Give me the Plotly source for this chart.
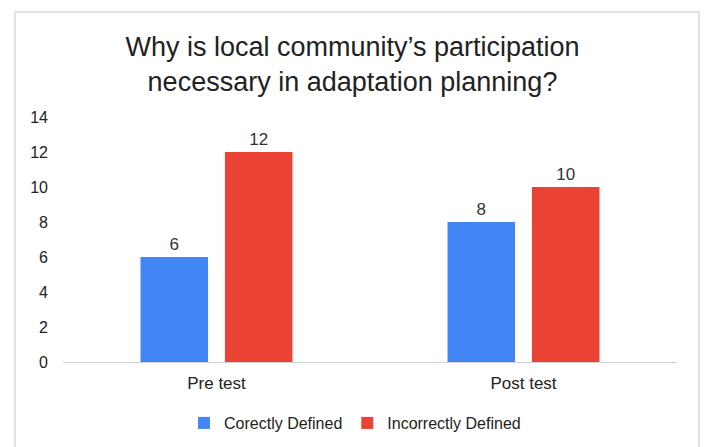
import plotly.graph_objects as go

categories = ["Pre test", "Post test"]
correct_vals = [6, 8]
incorrect_vals = [12, 10]
series_names = ["Corectly Defined", "Incorrectly Defined"]
series_colors = ["#4285F4", "#EA4335"]
title_text = "Why is local community’s participation<br>necessary in adaptation planning?"

W, H = 705, 447
m_l, m_r, m_t, m_b = 63, 28, 117, 85

fig = go.Figure()
for name, vals, color in zip(series_names, [correct_vals, incorrect_vals], series_colors):
    fig.add_trace(go.Bar(
        x=categories, y=vals, name=name,
        marker=dict(color=color, line=dict(width=0)),
        text=[str(v) for v in vals], textposition="outside",
        textfont=dict(size=17, color="#333333"),
        cliponaxis=False,
    ))

pw = W - m_l - m_r
ph = H - m_t - m_b
# light gray outer frame around the chart
fig.add_shape(type="rect", xref="paper", yref="paper",
              x0=(15 - m_l) / pw, x1=(699 - m_l) / pw,
              y0=(H - m_b - 470) / ph, y1=(H - m_b - 12) / ph,
              line=dict(color="#D9D9D9", width=1.5), fillcolor="rgba(0,0,0,0)",
              layer="below")

fig.update_layout(
    width=W, height=H,
    margin=dict(l=m_l, r=m_r, t=m_t, b=m_b, autoexpand=False),
    paper_bgcolor="white", plot_bgcolor="white",
    font=dict(family="Liberation Sans, Arial, sans-serif", color="#222222"),
    title=dict(text=title_text, x=0.5, xanchor="center", y=1 - 56 / H, yanchor="top",
               font=dict(size=27, color="#222222")),
    barmode="group", bargap=0.45, bargroupgap=0.2,
    showlegend=True,
    legend=dict(orientation="h", x=(355 - m_l) / pw, xanchor="center",
                yref="container", y=(H - 423) / H, yanchor="middle",
                font=dict(size=16, color="#222222"), traceorder="normal",
                itemwidth=30),
    xaxis=dict(showgrid=False, showline=True, linecolor="#D0D0D0", linewidth=1,
               ticks="", tickfont=dict(size=17, color="#222222"),
               ticklabelstandoff=6),
    yaxis=dict(range=[0, 14], dtick=2, showgrid=False, zeroline=False,
               showline=False, ticks="", tickfont=dict(size=16, color="#222222"),
               ticklabelstandoff=14),
)

fig.write_html("out.html")
